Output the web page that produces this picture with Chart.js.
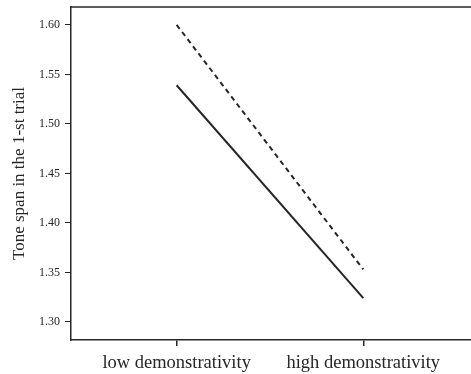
<!DOCTYPE html>
<html>
<head>
<meta charset="utf-8">
<script src="https://cdn.jsdelivr.net/npm/chart.js@4"></script>
<style>
  html, body { margin: 0; padding: 0; background: #fff; }
  #wrap { width: 471px; height: 374px; position: relative; }
</style>
</head>
<body>
<div id="wrap"><canvas id="chart"></canvas></div>
<script>
// categories and series
const categories = ['low demonstrativity', 'high demonstrativity'];
const dashedValues = [1.600, 1.353];
const solidValues = [1.539, 1.324];
const yTicks = [1.30, 1.35, 1.40, 1.45, 1.50, 1.55, 1.60];

const ink = '#262626';
const serif = "'Liberation Serif', 'DejaVu Serif', serif";

const toPoints = vals => vals.map((v, i) => ({ x: i, y: v }));

// top border of the plot box
const topBorder = {
  id: 'topBorder',
  afterDraw(chart) {
    const { ctx, chartArea } = chart;
    ctx.save();
    ctx.strokeStyle = ink;
    ctx.lineWidth = 1.5;
    ctx.beginPath();
    ctx.moveTo(chartArea.left, chartArea.top);
    ctx.lineTo(chart.width, chartArea.top);
    ctx.stroke();
    ctx.restore();
  }
};

new Chart(document.getElementById('chart'), {
  type: 'line',
  data: {
    datasets: [
      {
        data: toPoints(dashedValues),
        borderColor: ink,
        borderWidth: 2,
        borderDash: [5, 4],
        pointRadius: 0,
        fill: false
      },
      {
        data: toPoints(solidValues),
        borderColor: ink,
        borderWidth: 2,
        pointRadius: 0,
        fill: false
      }
    ]
  },
  options: {
    responsive: true,
    maintainAspectRatio: false,
    animation: false,
    layout: { padding: { top: 7, right: 0, left: 0, bottom: 0 } },
    plugins: { legend: { display: false }, tooltip: { enabled: false } },
    scales: {
      x: {
        type: 'linear',
        min: -0.566,
        max: 1.577,
        afterBuildTicks: s => { s.ticks = categories.map((c, i) => ({ value: i })); },
        afterFit: s => { s.height = 34; s.paddingLeft = 0; s.paddingRight = 0; },
        grid: { display: true, drawOnChartArea: false, drawTicks: true, tickLength: 6, color: ink, lineWidth: 1.5 },
        border: { display: true, color: ink, width: 1.5 },
        ticks: {
          callback: v => categories[v],
          color: ink,
          padding: 6,
          maxRotation: 0,
          font: { family: serif, size: 18.5 }
        }
      },
      y: {
        min: 1.2818,
        max: 1.618,
        afterBuildTicks: s => { s.ticks = yTicks.map(v => ({ value: v })); },
        afterFit: s => { s.width = 71; s.paddingTop = 0; s.paddingBottom = 0; },
        grid: { display: true, drawOnChartArea: false, drawTicks: true, tickLength: 6, color: ink, lineWidth: 1 },
        border: { display: true, color: ink, width: 1.5 },
        title: {
          display: true,
          text: 'Tone span in the 1-st trial',
          color: ink,
          padding: { top: 9, bottom: 4 },
          font: { family: serif, size: 17 }
        },
        ticks: {
          callback: v => v.toFixed(2),
          color: ink,
          padding: 5,
          font: { family: serif, size: 12 }
        }
      }
    }
  },
  plugins: [topBorder]
});
</script>
</body>
</html>
